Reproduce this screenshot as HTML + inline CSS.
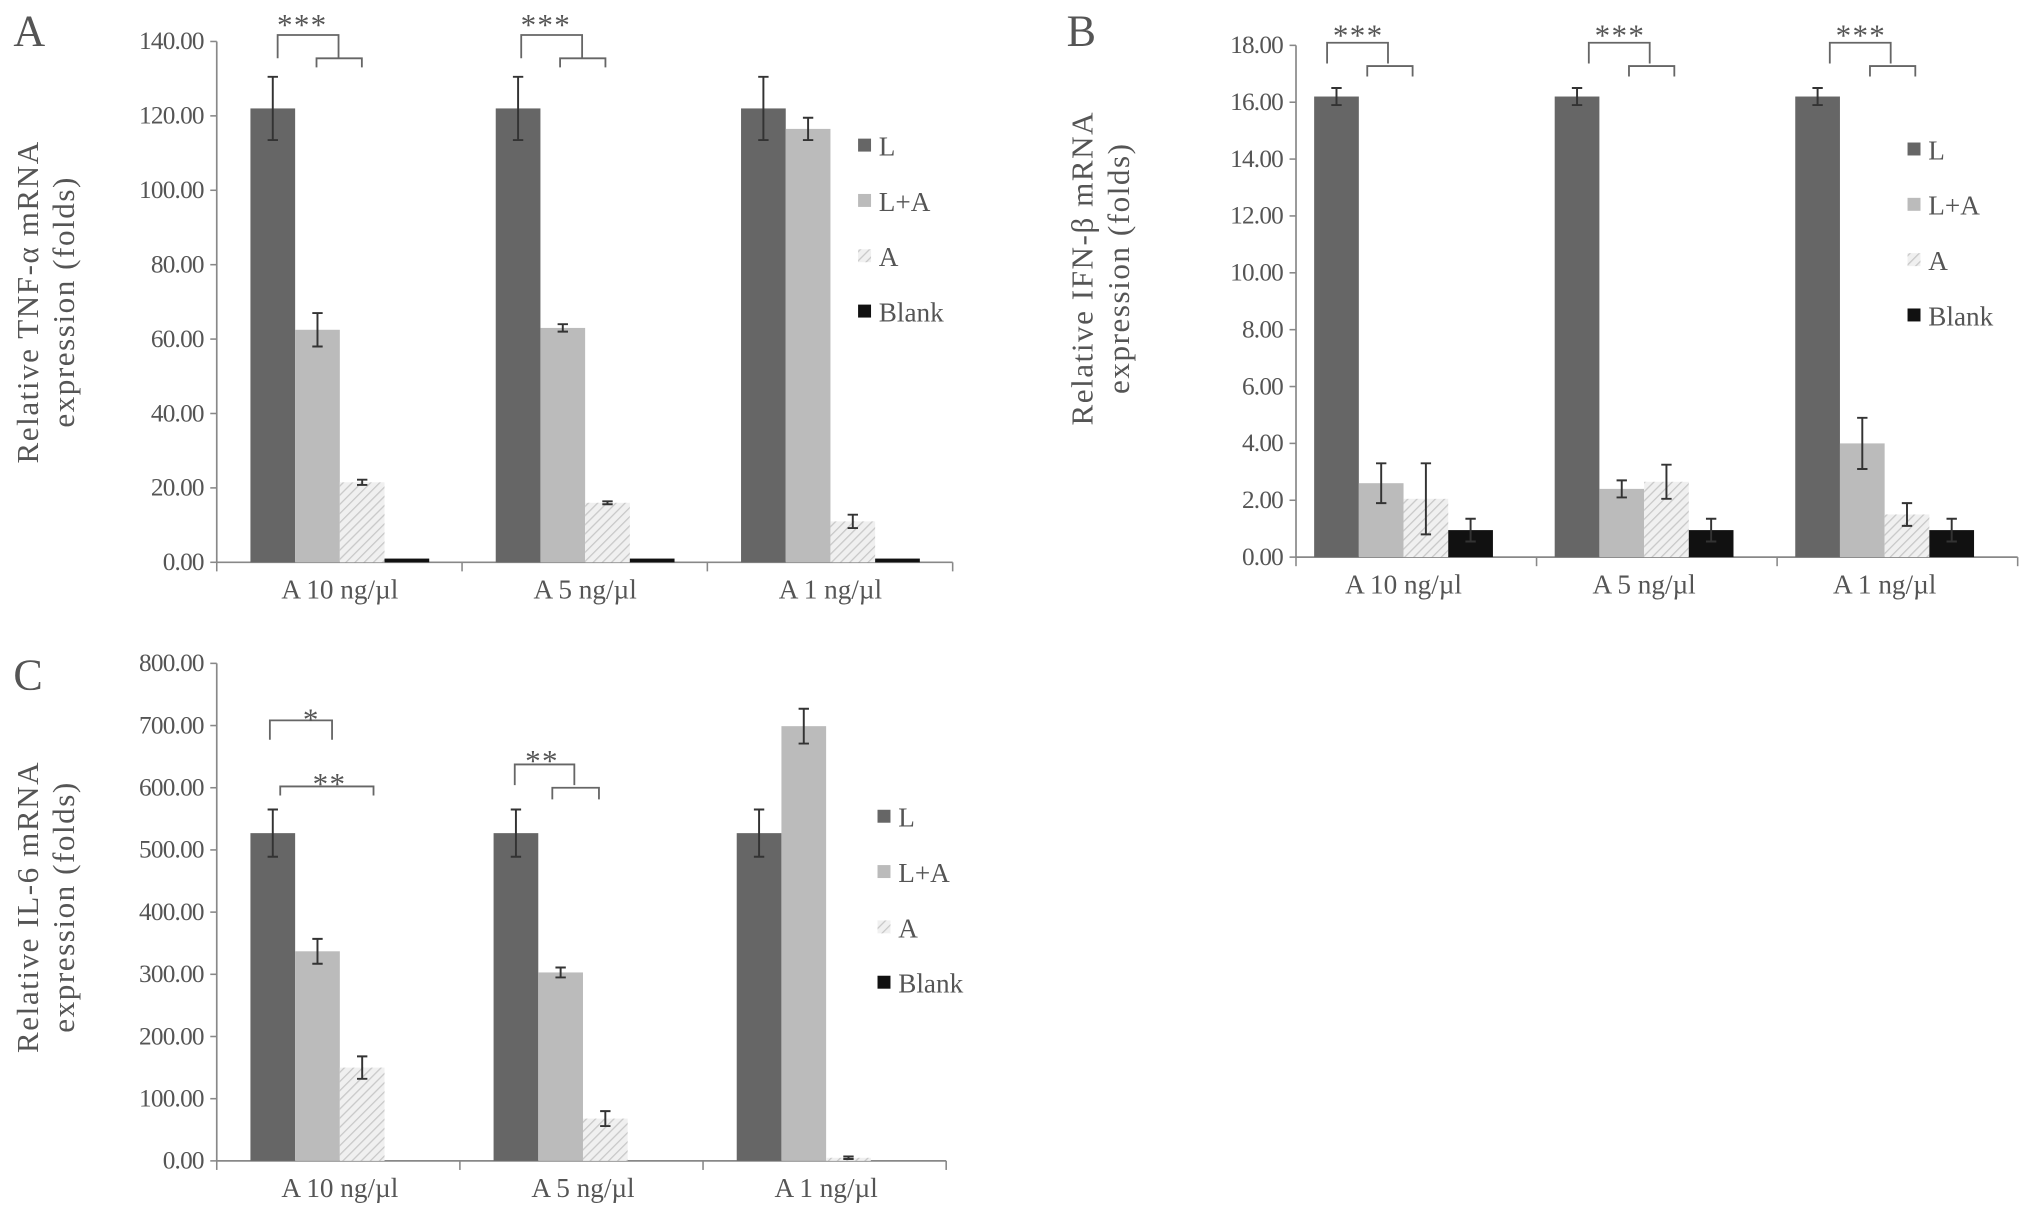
<!DOCTYPE html>
<html><head><meta charset="utf-8">
<style>
html,body{margin:0;padding:0;background:#fff;}
svg{display:block;font-family:"Liberation Serif","DejaVu Serif",serif;}
svg text{font-family:"Liberation Serif","DejaVu Serif",serif;fill:#555;}
</style></head>
<body>
<svg id="fig" width="2031" height="1214" viewBox="0 0 1567 937" font-family="Liberation Serif, serif" xmlns="http://www.w3.org/2000/svg">
<defs>
<pattern id="hatch" patternUnits="userSpaceOnUse" width="5" height="5" patternTransform="rotate(45)">
<rect width="5" height="5" fill="#f0f0f0"/>
<line x1="0" y1="0" x2="0" y2="5" stroke="#c8c8c8" stroke-width="2"/>
</pattern>
</defs>
</svg>
<script>
const categories = ["A 10 ng/µl","A 5 ng/µl","A 1 ng/µl"];
const seriesNames = ["L","L+A","A","Blank"];
// Panel A: TNF-α
const tnfL = [122,122,122];
const tnfLA = [62.5,63,116.5];
const tnfA = [21.5,16,11];
const tnfBlank = [1,1,1];
const tnfLErr = [8.5,8.5,8.5];
const tnfLAErr = [4.5,1,3];
const tnfAErr = [0.7,0.4,1.8];
const tnfBlankErr = [0,0,0];
const tnfTicks = ["0.00","20.00","40.00","60.00","80.00","100.00","120.00","140.00"];
// Panel B: IFN-β
const ifnL = [16.2,16.2,16.2];
const ifnLA = [2.6,2.4,4.0];
const ifnA = [2.05,2.65,1.5];
const ifnBlank = [0.95,0.95,0.95];
const ifnLErr = [0.3,0.3,0.3];
const ifnLAErr = [0.7,0.3,0.9];
const ifnAErr = [1.25,0.6,0.4];
const ifnBlankErr = [0.4,0.4,0.4];
const ifnTicks = ["0.00","2.00","4.00","6.00","8.00","10.00","12.00","14.00","16.00","18.00"];
// Panel C: IL-6
const il6L = [527,527,527];
const il6LA = [337,303,699];
const il6A = [150,68,5];
const il6Blank = [0,0,0];
const il6LErr = [38,38,38];
const il6LAErr = [20,8,28];
const il6AErr = [18,12,2];
const il6BlankErr = [0,0,0];
const il6Ticks = ["0.00","100.00","200.00","300.00","400.00","500.00","600.00","700.00","800.00"];

const NS="http://www.w3.org/2000/svg";
const svg=document.getElementById('fig');
function el(tag,attrs,parent,txt){const e=document.createElementNS(NS,tag);for(const k in attrs)e.setAttribute(k,attrs[k]);if(tag==='text'){e.setAttribute('font-family','Liberation Serif, serif');e.style.fontFamily='"Liberation Serif", serif';}if(txt!==undefined)e.textContent=txt;(parent||svg).appendChild(e);return e;}
const fills=["#666666","#bbbbbb","url(#hatch)","#111111"];

function panel(cfg){
  const g=el('g',{});
  
  
  const ticks=cfg.ticks, maxV=parseFloat(ticks[ticks.length-1]);
  const y=v=>cfg.y0-(v/maxV)*(cfg.y0-cfg.yTop);
  const gw=(cfg.x1-cfg.x0)/categories.length;
  const xBar=(ci,si)=>cfg.x0+ci*gw+cfg.off+si*cfg.bw;
  const ax=el('line',{x1:cfg.x0,y1:cfg.yTop,x2:cfg.x0,y2:cfg.y0,stroke:'#888','stroke-width':1.3},g);
  
  
  const bx=el('line',{x1:cfg.x0,y1:cfg.y0,x2:cfg.x1,y2:cfg.y0,stroke:'#888','stroke-width':1.3},g);
  
  
  ticks.forEach(t=>{
    const v=parseFloat(t);
    el('line',{x1:cfg.x0-5,y1:y(v),x2:cfg.x0,y2:y(v),stroke:'#888','stroke-width':1.2},g);
    const tl=el('text',{x:cfg.x0-10,y:y(v)+6,'text-anchor':'end','font-size':19.5,'letter-spacing':'-0.6'},g,t);
    
    
  });
  for(let i=0;i<=categories.length;i++){
    el('line',{x1:cfg.x0+i*gw,y1:cfg.y0,x2:cfg.x0+i*gw,y2:cfg.y0+7,stroke:'#888','stroke-width':1.2},g);
  }
  categories.forEach((c,ci)=>{
    const cx=xBar(ci,0)+2*cfg.bw;
    const t=el('text',{x:cx,y:cfg.y0+28,'text-anchor':'middle','font-size':21},g,c);
    
    
  });
  cfg.series.forEach((vals,si)=>{
    vals.forEach((v,ci)=>{
      const x=xBar(ci,si), top=y(v);
      const h=Math.max(cfg.y0-top, si===3&&v>0?2.5:0);
      const r=el('rect',{x:x,y:cfg.y0-h,width:cfg.bw,height:h,fill:fills[si]},g);
      
      
      const e=cfg.errs[si][ci];
      if(e>0){
        const cx=x+cfg.bw/2;
        const eb=el('path',{d:`M${cx},${y(v+e)}V${y(v-e)}M${cx-4},${y(v+e)}H${cx+4}M${cx-4},${y(v-e)}H${cx+4}`,stroke:'#333','stroke-width':1.5,fill:'none'},g);
        
        
      }
    });
  });
  seriesNames.forEach((n,i)=>{
    const ly=cfg.legY+i*cfg.legDy;
    const sw=el('rect',{x:cfg.legX,y:ly-6,width:10,height:10,fill:fills[i]},g);
    
    
    const lt=el('text',{x:cfg.legX+16,y:ly+7,'font-size':21},g,n);
    
    
  });
  const t1=el('text',{transform:`translate(${cfg.titleX},${cfg.titleY}) rotate(-90)`,'text-anchor':'middle','font-size':24,'letter-spacing':'1.2'},g,cfg.title1);
  
  
  const t2=el('text',{transform:`translate(${cfg.titleX+28},${cfg.titleY}) rotate(-90)`,'text-anchor':'middle','font-size':24,'letter-spacing':'1.2'},g,cfg.title2);
  
  
  const pl=el('text',{x:cfg.letterX,y:cfg.letterY,'font-size':34,fill:'#333'},g,cfg.letter);
  
  
  cfg.sig.forEach(s=>{
    const p=el('path',{d:s.d,stroke:'#666','stroke-width':1.4,fill:'none'},g);
    
    
    const st=el('text',{x:s.tx,y:s.ty,'text-anchor':'middle','font-size':24,'letter-spacing':'1'},g,s.t);
    
    
  });
}
function trip(x,ty){
  return {d:`M${x},45V27H${x+47}V45M${x+30},52V45H${x+65}V52`,tx:x+19,ty:ty+2,t:"***"};
}
function tripB(x){
  return {d:`M${x},49V33H${x+47}V49M${x+31},59V51H${x+66}V59`,tx:x+24,ty:35,t:"***"};
}
panel({name:'panel-a-tnf',x0:167,x1:735,y0:434,yTop:32,off:26,bw:34.5,ticks:tnfTicks,
  series:[tnfL,tnfLA,tnfA,tnfBlank],errs:[tnfLErr,tnfLAErr,tnfAErr,tnfBlankErr],
  legX:662,legY:113,legDy:42.7,title1:"Relative TNF-α mRNA",title2:"expression (folds)",titleX:29,titleY:233,
  letter:"A",letterX:10,letterY:35,
  sig:[trip(214,25),trip(402,25)]});
panel({name:'panel-b-ifn',x0:1000,x1:1557,y0:430,yTop:35,off:14,bw:34.5,ticks:ifnTicks,
  series:[ifnL,ifnLA,ifnA,ifnBlank],errs:[ifnLErr,ifnLAErr,ifnAErr,ifnBlankErr],
  legX:1472,legY:116,legDy:42.7,title1:"Relative IFN-β mRNA",title2:"expression (folds)",titleX:843,titleY:207,
  letter:"B",letterX:823,letterY:35,
  sig:[tripB(1024),tripB(1226),tripB(1412)]});
panel({name:'panel-c-il6',x0:167,x1:730,y0:896,yTop:512,off:26,bw:34.5,ticks:il6Ticks,
  series:[il6L,il6LA,il6A,il6Blank],errs:[il6LErr,il6LAErr,il6AErr,il6BlankErr],
  legX:677,legY:631,legDy:42.7,title1:"Relative IL-6 mRNA",title2:"expression (folds)",titleX:29,titleY:700,
  letter:"C",letterX:10,letterY:532,
  sig:[{d:"M208,571V556H256V571",tx:240,ty:563,t:"*"},
       {d:"M216,614V607H288V614",tx:254,ty:613,t:"**"},
       {d:"M397,606V590H443V606M426,617V608H462V617",tx:418,ty:595,t:"**"}]});
</script>
</body></html>
